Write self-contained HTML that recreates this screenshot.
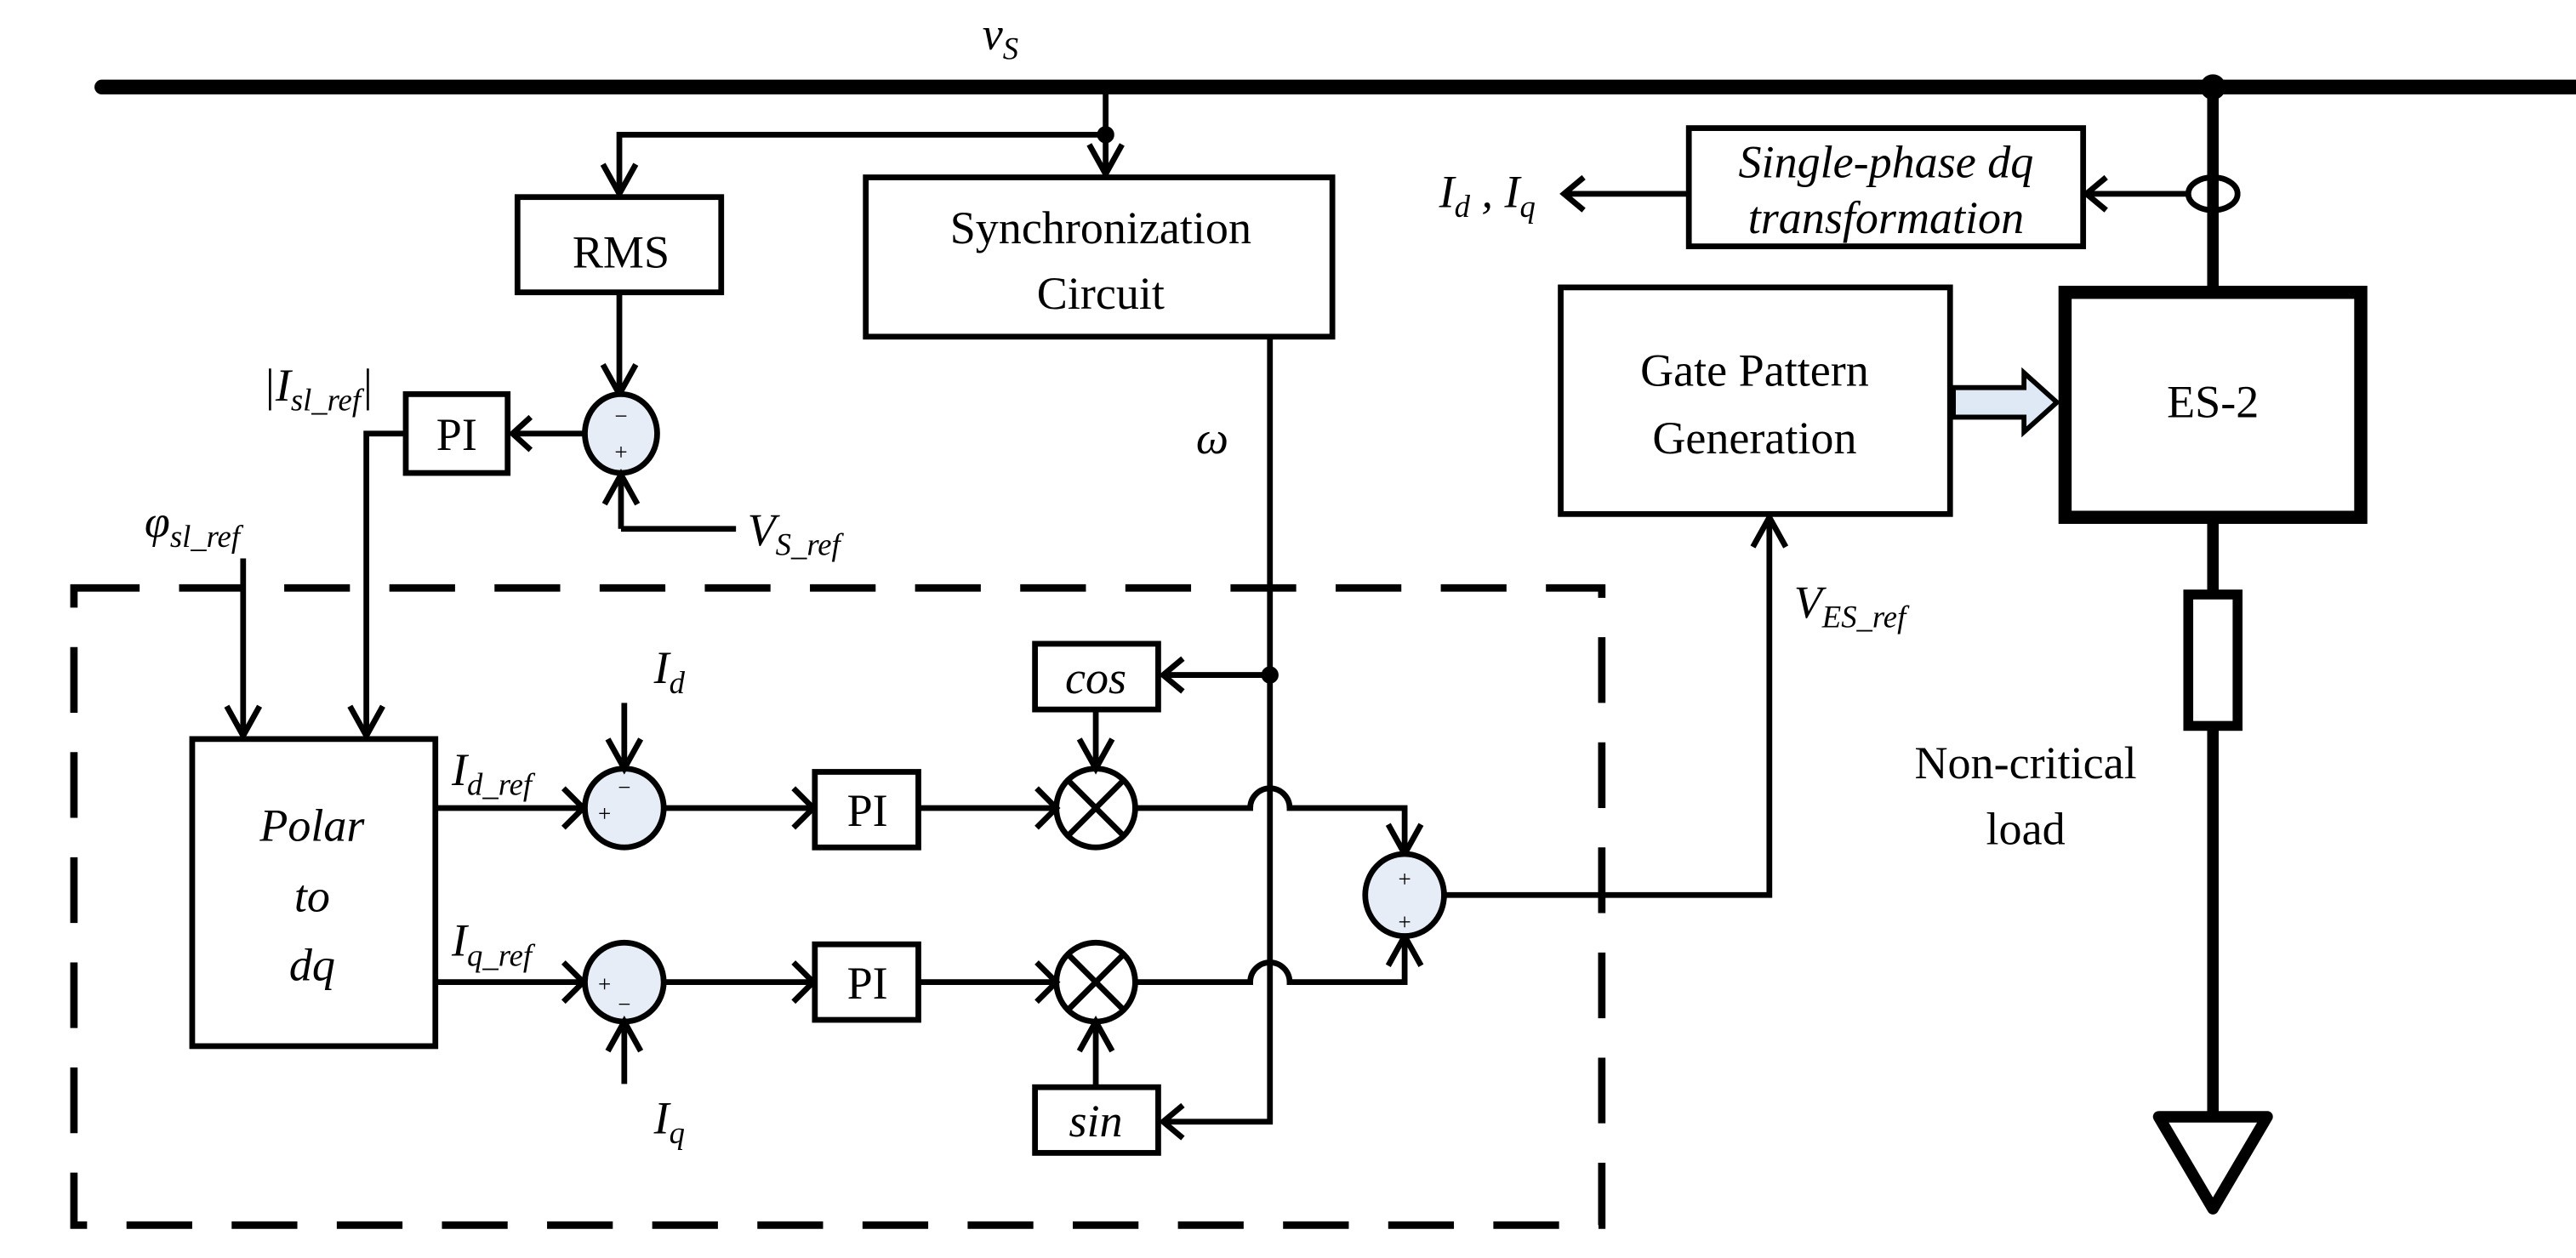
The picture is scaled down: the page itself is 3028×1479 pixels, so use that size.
<!DOCTYPE html>
<html><head><meta charset="utf-8"><style>
html,body{margin:0;padding:0;background:#fff;}
svg{display:block;}
text{font-family:"Liberation Serif",serif;fill:#000;}
.i{font-style:italic;}
</style></head><body>
<svg width="3028" height="1479" viewBox="0 0 1568 766" preserveAspectRatio="none" xmlns="http://www.w3.org/2000/svg">
<g fill="none" stroke="#000" stroke-width="3.5" stroke-linejoin="miter">
<line x1="62" y1="53" x2="1568" y2="53" stroke-width="9" stroke-linecap="round"/>
<circle cx="1347" cy="53" r="6" fill="#000"/>
<polyline points="673,53 673,106"/>
<polyline points="673,82 377,82 377,118"/>
<circle cx="673" cy="82" r="3.5" fill="#000"/>
<polyline points="663,88 673,106 683,88"/>
<polyline points="367,100 377,118 387,100"/>
<rect x="315" y="120" width="124" height="58"/>
<rect x="527" y="108" width="284" height="97"/>
<line x1="377" y1="178" x2="377" y2="240"/>
<polyline points="367,222 377,240 387,222"/>
<ellipse cx="378" cy="264" rx="22" ry="24" fill="#e6edf7"/>
<line x1="356" y1="264" x2="312" y2="264"/>
<polyline points="323,254 312,264 323,274"/>
<polyline points="378,322 378,289"/>
<polyline points="368,307 378,289 388,307"/>
<polyline points="378,322 448,322"/>
<rect x="247" y="240" width="62" height="48"/>
<polyline points="247,264 223,264 223,448"/>
<polyline points="213,430 223,448 233,430"/>
<polyline points="148,340 148,448"/>
<polyline points="138,430 148,448 158,430"/>
<rect x="45" y="358" width="930" height="388" stroke-width="4.5" stroke-dasharray="40,24"/>
<rect x="117" y="450" width="148" height="187"/>
<polyline points="773,205 773,683 708,683"/>
<circle cx="773" cy="411" r="3.5" fill="#000"/>
<polyline points="773,411 708,411"/>
<polyline points="720,401 708,411 720,421"/>
<polyline points="720,673 708,683 720,693"/>
<rect x="630" y="392" width="75" height="40"/>
<rect x="630" y="662" width="75" height="40"/>
<line x1="265" y1="492" x2="355" y2="492"/>
<polyline points="343,480 355,492 343,504"/>
<ellipse cx="380" cy="492" rx="24" ry="24" fill="#e6edf7"/>
<line x1="380" y1="428" x2="380" y2="468"/>
<polyline points="370,450 380,468 390,450"/>
<line x1="404" y1="492" x2="495" y2="492"/>
<polyline points="483,480 495,492 483,504"/>
<rect x="496" y="470" width="63" height="46"/>
<line x1="559" y1="492" x2="643" y2="492"/>
<polyline points="631,480 643,492 631,504"/>
<circle cx="667" cy="492" r="24"/>
<line x1="650" y1="475" x2="684" y2="509"/><line x1="684" y1="475" x2="650" y2="509"/>
<line x1="667" y1="432" x2="667" y2="468"/>
<polyline points="657,450 667,468 677,450"/>
<path d="M691,492 H761 A12,12 0 0 1 785,492 H855 V520"/>
<polyline points="845,502 855,520 865,502"/>
<line x1="265" y1="598" x2="355" y2="598"/>
<polyline points="343,586 355,598 343,610"/>
<ellipse cx="380" cy="598" rx="24" ry="24" fill="#e6edf7"/>
<line x1="380" y1="660" x2="380" y2="622"/>
<polyline points="370,640 380,622 390,640"/>
<line x1="404" y1="598" x2="495" y2="598"/>
<polyline points="483,586 495,598 483,610"/>
<rect x="496" y="575" width="63" height="46"/>
<line x1="559" y1="598" x2="643" y2="598"/>
<polyline points="631,586 643,598 631,610"/>
<circle cx="667" cy="598" r="24"/>
<line x1="650" y1="581" x2="684" y2="615"/><line x1="684" y1="581" x2="650" y2="615"/>
<line x1="667" y1="662" x2="667" y2="622"/>
<polyline points="657,640 667,622 677,640"/>
<path d="M691,598 H761 A12,12 0 0 1 785,598 H855 V570"/>
<polyline points="845,588 855,570 865,588"/>
<ellipse cx="855" cy="545" rx="24" ry="25" fill="#e6edf7"/>
<polyline points="879,545 1077,545 1077,315"/>
<polyline points="1067,333 1077,315 1087,333"/>
<rect x="950" y="175" width="237" height="138"/>
<path d="M1189,236 H1232 V227 L1252,245 L1232,263 V254 H1189 Z" fill="#dfe9f5" stroke-width="3"/>
<line x1="1347" y1="53" x2="1347" y2="178" stroke-width="7"/>
<rect x="1257" y="178" width="180" height="137" stroke-width="8"/>
<line x1="1347" y1="315" x2="1347" y2="362" stroke-width="7"/>
<rect x="1332" y="362" width="30" height="80" stroke-width="6"/>
<line x1="1347" y1="442" x2="1347" y2="680" stroke-width="7"/>
<polygon points="1314,680 1380,680 1347,736" stroke-width="7" stroke-linejoin="round"/>
<ellipse cx="1347" cy="118" rx="15" ry="10"/>
<line x1="1332" y1="118" x2="1270" y2="118"/>
<polyline points="1282,108 1270,118 1282,128"/>
<rect x="1028" y="78" width="240" height="72"/>
<line x1="1028" y1="118" x2="952" y2="118"/>
<polyline points="964,108 952,118 964,128"/>
</g>
<g font-size="28" text-anchor="middle">
<text x="378" y="163">RMS</text>
<text x="670" y="148">Synchronization</text>
<text x="670" y="188">Circuit</text>
<text x="278" y="274">PI</text>
<text x="528" y="503">PI</text>
<text x="528" y="608">PI</text>
<text x="1068" y="235">Gate Pattern</text>
<text x="1068" y="276">Generation</text>
<text x="1347" y="254">ES-2</text>
<text x="1233" y="474">Non-critical</text>
<text x="1233" y="514">load</text>
<text class="i" x="190" y="512">Polar</text>
<text class="i" x="190" y="555">to</text>
<text class="i" x="190" y="597">dq</text>
<text class="i" x="667" y="422">cos</text>
<text class="i" x="667" y="692">sin</text>
<text class="i" x="1148" y="108">Single-phase dq</text>
<text class="i" x="1148" y="142">transformation</text>
</g>
<g font-size="28" class="i">
<text class="i" x="598" y="30">v<tspan font-size="19" dy="6">S</tspan></text>
<text class="i" x="728" y="276">ω</text>
<text x="160" y="244" class="i">|I<tspan font-size="19" dy="6">sl_ref</tspan><tspan dy="-6">|</tspan></text>
<text x="88" y="327" class="i">φ<tspan font-size="19" dy="6">sl_ref</tspan></text>
<text x="455" y="332" class="i">V<tspan font-size="19" dy="6">S_ref</tspan></text>
<text x="275" y="478" class="i">I<tspan font-size="19" dy="6">d_ref</tspan></text>
<text x="275" y="582" class="i">I<tspan font-size="19" dy="6">q_ref</tspan></text>
<text x="398" y="416" class="i">I<tspan font-size="19" dy="6">d</tspan></text>
<text x="398" y="690" class="i">I<tspan font-size="19" dy="6">q</tspan></text>
<text x="1092" y="376" class="i">V<tspan font-size="19" dy="6">ES_ref</tspan></text>
<text x="876" y="126" class="i">I<tspan font-size="19" dy="6">d</tspan><tspan dy="-6"> , I</tspan><tspan font-size="19" dy="6">q</tspan></text>
</g>
<g font-size="14" text-anchor="middle">
<text x="378" y="258">−</text><text x="378" y="280">+</text>
<text x="380" y="484">−</text><text x="368" y="500">+</text>
<text x="368" y="604">+</text><text x="380" y="616">−</text>
<text x="855" y="540">+</text><text x="855" y="566">+</text>
</g>
</svg>
</body></html>
